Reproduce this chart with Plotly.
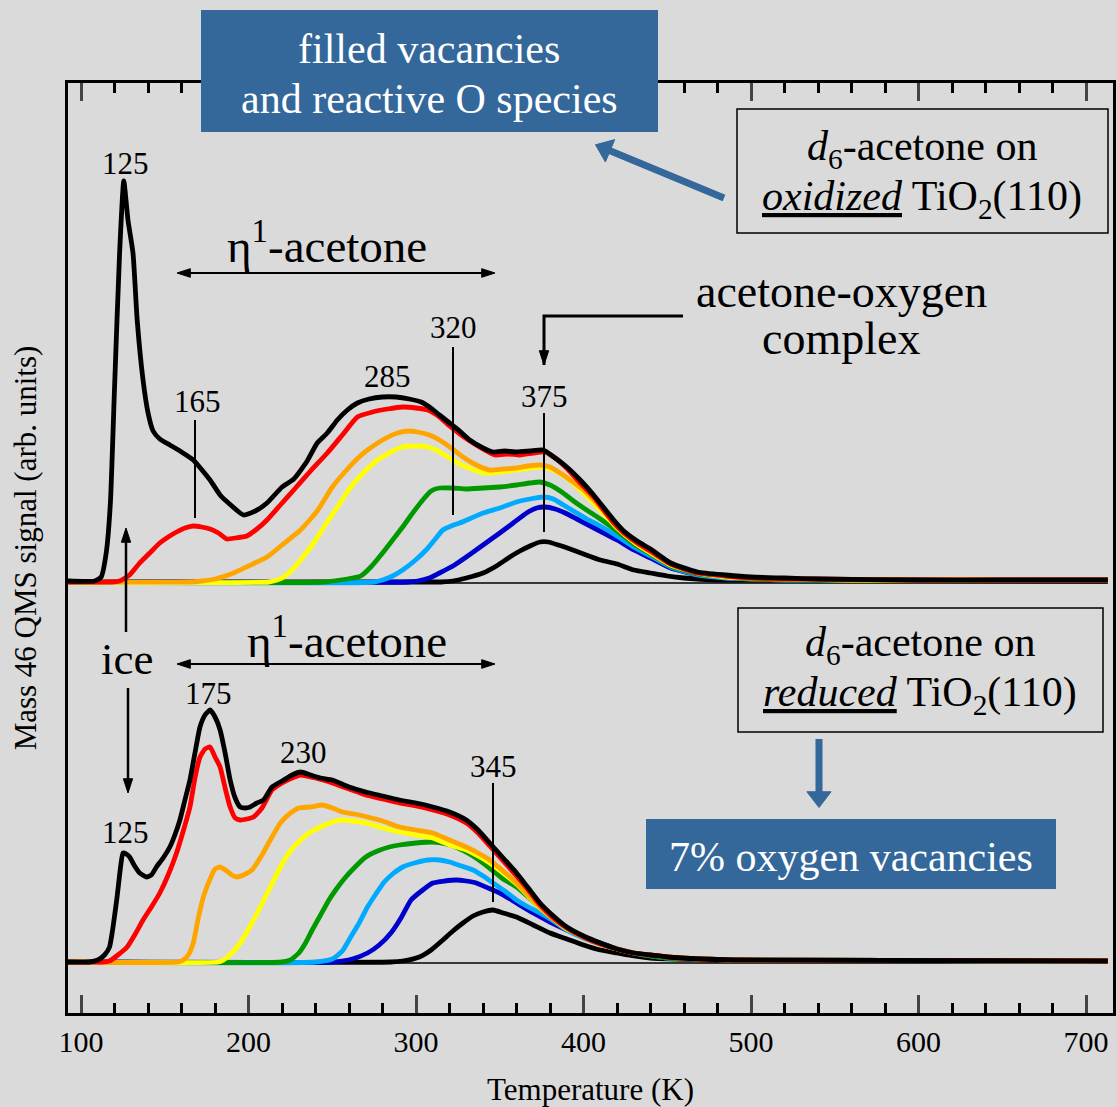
import plotly.graph_objects as go

# ---------------- data ----------------
T_RANGE = [92.2, 716.1]          # temperature axis (K)
SIG_RANGE = [0, 930]             # signal axis (arb. units)
OX_OFFSET = 430                  # vertical offset of oxidized-surface spectra
RD_OFFSET = 50                   # vertical offset of reduced-surface spectra
BASELINE_T = [95, 713]
X_TICKS = [100, 200, 300, 400, 500, 600, 700]

# (T, signal) pairs -- oxidized TiO2(110)
ox_black_hi = [(92, 2), (108, 2), (112, 6), (115, 30), (117.5, 80), (120, 196), (123, 330), (125.5, 402),
               (128, 363), (131, 330), (133.5, 263), (137, 203), (140, 170), (143, 152), (147, 144), (153, 138),
               (160, 131), (167, 123), (177, 103), (183, 88), (188, 80), (197, 68), (204, 72), (211, 80),
               (220, 96), (227, 104), (235, 122), (241, 140), (247, 150), (253, 163), (259, 173), (265, 180),
               (272, 184), (280, 186), (288, 186), (296, 184), (303, 181), (308, 176), (314, 168), (320, 160),
               (326, 152), (332, 143), (340, 135), (346, 131), (353, 132), (360, 131), (368, 132), (376, 133),
               (383, 125), (390, 116), (398, 103), (406, 88), (418, 63), (424, 52), (432, 42), (440, 34),
               (452, 20), (468, 11), (485, 8), (500, 6), (520, 5), (540, 4), (600, 3), (650, 3), (713, 3)]
ox_red = [(92, 1), (118, 1), (123, 2), (129, 8), (135, 20), (141, 30), (147, 40), (152, 46), (157, 51),
          (162, 55), (167, 57), (172, 56), (177, 54), (182, 50), (187, 44), (192, 45), (199, 47), (205, 54),
          (211, 63), (219, 78), (227, 93), (237, 112), (247, 130), (256, 148), (265, 166), (274, 171),
          (283, 174), (292, 176), (300, 175), (307, 173), (314, 166), (320, 157), (327, 148), (334, 140),
          (341, 133), (347, 128), (355, 129), (362, 128), (370, 130), (377, 131), (384, 124), (391, 113),
          (398, 100), (406, 86), (418, 60), (424, 50), (432, 40), (440, 32), (452, 19), (468, 10), (485, 7),
          (500, 5), (520, 4), (540, 4), (600, 3), (713, 3)]
ox_orange = [(92, 1), (165, 1), (172, 2), (180, 4), (191, 10), (200, 17), (211, 26), (220, 38), (231, 53),
             (241, 72), (250, 96), (258, 112), (266, 126), (271, 133), (280, 143), (289, 150), (296, 152),
             (301, 151), (308, 148), (314, 143), (321, 135), (328, 126), (336, 118), (344, 113), (352, 114),
             (360, 115), (367, 117), (374, 118), (380, 116), (386, 110), (392, 103), (400, 93), (410, 76),
             (420, 57), (430, 43), (440, 31), (452, 19), (468, 10), (485, 7), (500, 5), (520, 4), (560, 3),
             (713, 3)]
ox_yellow = [(92, 1), (212, 1), (217, 3), (221, 6), (226, 13), (231, 23), (238, 38), (245, 56), (253, 76),
             (261, 96), (269, 111), (277, 123), (285, 131), (292, 136), (300, 137), (307, 136), (312, 133),
             (316, 129), (321, 124), (326, 119), (333, 114), (340, 110), (350, 111), (360, 113), (368, 115),
             (375, 116), (382, 113), (390, 105), (400, 90), (410, 73), (420, 55), (430, 41), (440, 30),
             (452, 18), (468, 10), (485, 6), (500, 5), (520, 4), (560, 3), (713, 3)]
ox_green = [(92, 1), (245, 1), (255, 3), (262, 5), (267, 7), (273, 16), (280, 30), (286, 43), (292, 56),
            (298, 70), (304, 83), (309, 92), (314, 95), (322, 95), (330, 94), (340, 95), (350, 96), (360, 98),
            (368, 100), (374, 101), (380, 98), (387, 91), (394, 82), (400, 75), (410, 64), (420, 52),
            (430, 39), (440, 29), (452, 17), (468, 9), (485, 6), (500, 4), (520, 3), (713, 3)]
ox_lightblue = [(92, 1), (275, 1), (280, 3), (286, 7), (292, 13), (299, 22), (306, 33), (311, 43), (316, 53),
                (321, 57), (326, 60), (333, 65), (340, 70), (350, 75), (360, 81), (368, 84), (376, 86),
                (382, 84), (388, 78), (395, 71), (402, 64), (410, 57), (420, 47), (430, 36), (440, 27),
                (452, 16), (468, 8), (485, 5), (500, 4), (520, 3), (713, 3)]
ox_blue = [(92, 1), (295, 1), (301, 2), (308, 5), (314, 10), (322, 17), (330, 26), (340, 38), (350, 50),
           (358, 60), (366, 70), (372, 75), (377, 76), (383, 74), (389, 70), (396, 64), (404, 57), (412, 50),
           (420, 43), (430, 33), (440, 25), (452, 15), (468, 8), (485, 5), (500, 4), (520, 3), (713, 3)]
ox_black_lo = [(92, 1), (315, 1), (322, 2), (330, 5), (340, 10), (348, 17), (356, 26), (362, 32), (368, 37),
               (374, 41), (379, 41), (385, 38), (392, 34), (400, 29), (410, 23), (420, 19), (430, 13),
               (440, 10), (450, 7), (460, 5), (480, 3), (713, 2)]

# (T, signal) pairs -- reduced TiO2(110)
rd_black_hi = [(92, 1), (105, 1), (110, 3), (114, 8), (117, 16), (119, 35), (121.5, 66), (123.5, 95),
               (125, 110), (127, 109), (129, 106), (132, 97), (135, 90), (139, 86), (142, 88), (145, 96),
               (149, 105), (153, 116), (156, 128), (159, 143), (162, 163), (165, 183), (168, 210), (171, 236),
               (174, 248), (177, 253), (180, 246), (183, 233), (186, 210), (189, 183), (192, 165), (195, 156),
               (198, 155), (201, 156), (205, 160), (209, 163), (214, 176), (220, 182), (226, 188), (231, 191),
               (237, 188), (243, 185), (250, 183), (260, 176), (270, 171), (280, 167), (290, 163), (300, 160),
               (310, 156), (320, 151), (330, 143), (337, 133), (344, 120), (352, 105), (360, 90), (367, 75),
               (374, 60), (382, 47), (390, 36), (400, 27), (410, 20), (420, 14), (430, 10), (440, 8), (450, 6),
               (470, 4), (490, 3), (713, 2)]
rd_red = [(92, 1), (112, 1), (117, 2), (122, 8), (127.5, 16), (132, 28), (137, 43), (142, 56), (147, 70),
          (152, 88), (157, 110), (161, 132), (165, 156), (168, 185), (171, 206), (174, 214), (177, 216),
          (180, 206), (183, 196), (186, 175), (189, 156), (192, 145), (195, 143), (199, 144), (203, 146),
          (208, 155), (214, 173), (220, 180), (226, 185), (231, 188), (240, 185), (250, 180), (260, 174),
          (270, 168), (280, 164), (290, 160), (300, 157), (310, 153), (320, 148), (330, 140), (337, 130),
          (344, 117), (352, 102), (360, 87), (367, 73), (374, 58), (382, 45), (390, 35), (400, 26), (410, 19),
          (420, 14), (430, 10), (440, 8), (450, 6), (470, 4), (490, 3), (713, 2)]
rd_orange = [(92, 1), (158, 1), (161, 3), (164, 8), (167, 20), (170, 45), (173, 66), (177, 84), (180, 94),
             (183, 96), (187, 92), (190, 88), (193, 86), (197, 88), (202, 93), (208, 108), (214, 126),
             (219, 140), (225, 150), (230, 155), (237, 156), (244, 158), (250, 155), (256, 151), (263, 149),
             (271, 146), (280, 142), (290, 136), (300, 133), (310, 130), (320, 123), (330, 116), (337, 110),
             (344, 103), (352, 92), (360, 80), (367, 68), (374, 56), (382, 44), (390, 35), (400, 26), (410, 19),
             (420, 14), (430, 10), (440, 8), (450, 6), (470, 4), (490, 3), (713, 2)]
rd_yellow = [(92, 1), (182, 1), (185, 3), (190, 10), (195, 20), (201, 37), (207, 56), (213, 76), (219, 96),
             (225, 112), (231, 123), (237, 131), (243, 136), (250, 141), (255, 143), (262, 142), (270, 140),
             (280, 135), (290, 131), (300, 128), (310, 125), (320, 118), (330, 113), (337, 107), (344, 100),
             (352, 90), (360, 79), (367, 67), (374, 55), (382, 44), (390, 34), (400, 26), (410, 19), (420, 14),
             (430, 10), (440, 8), (450, 6), (470, 4), (490, 3), (713, 2)]
rd_green = [(92, 1), (220, 1), (225, 3), (230, 10), (234, 20), (238, 33), (243, 48), (248, 63), (252, 73),
            (257, 84), (263, 95), (270, 106), (277, 112), (284, 116), (290, 118), (300, 120), (310, 121),
            (318, 119), (325, 115), (332, 109), (340, 100), (346, 92), (352, 84), (360, 76), (367, 66),
            (374, 55), (382, 44), (390, 34), (400, 26), (410, 19), (420, 14), (430, 10), (440, 7), (450, 5),
            (470, 4), (490, 3), (713, 2)]
rd_lightblue = [(92, 1), (240, 1), (250, 4), (256, 12), (261, 26), (266, 40), (271, 56), (276, 69), (281, 81),
                (286, 89), (292, 96), (299, 100), (307, 103), (314, 103), (320, 101), (327, 97), (334, 93),
                (340, 87), (346, 80), (353, 72), (360, 63), (367, 56), (374, 50), (382, 42), (390, 33),
                (400, 25), (410, 19), (420, 14), (430, 10), (440, 7), (450, 5), (470, 4), (490, 3), (713, 2)]
rd_blue = [(92, 1), (250, 1), (262, 4), (271, 10), (278, 18), (285, 30), (291, 45), (297, 63), (304, 73),
           (310, 80), (317, 82), (324, 83), (330, 82), (336, 80), (343, 75), (350, 70), (360, 60), (370, 50),
           (380, 41), (390, 33), (400, 26), (410, 20), (420, 14), (430, 10), (440, 7), (450, 5), (470, 4),
           (490, 3), (713, 2)]
rd_black_lo = [(92, 1), (285, 1), (292, 2), (302, 6), (309, 13), (316, 23), (322, 32), (328, 40), (334, 47),
               (340, 51), (346, 53), (352, 50), (360, 46), (370, 38), (380, 30), (390, 24), (400, 18),
               (410, 13), (420, 10), (430, 7), (440, 5), (455, 4), (480, 3), (713, 2)]

# ---------------- styling ----------------
FONT = "Liberation Serif"
BOX_BLUE = "#34679A"
BG = "#dadada"
W, H = 1117, 1107
L, R, TOP, B = 68, 1113, 83, 1013   # plot area in pixels


def px(x):
    return (x - L) / (R - L)


def py(y):
    return (B - y) / (B - TOP)


def dx(x):   # pixel -> temperature (for annotation arrows drawn as traces)
    return T_RANGE[0] + px(x) * (T_RANGE[1] - T_RANGE[0])


def dy(y):   # pixel -> signal
    return SIG_RANGE[0] + py(y) * (SIG_RANGE[1] - SIG_RANGE[0])


fig = go.Figure()

panels = [
    (OX_OFFSET, [("black", ox_black_lo), ("#0000CC", ox_blue), ("#00AAFF", ox_lightblue),
                 ("#009900", ox_green), ("#FFFF00", ox_yellow), ("#FFA500", ox_orange),
                 ("#FF0000", ox_red), ("black", ox_black_hi)]),
    (RD_OFFSET, [("black", rd_black_lo), ("#0000CC", rd_blue), ("#00AAFF", rd_lightblue),
                 ("#009900", rd_green), ("#FFFF00", rd_yellow), ("#FFA500", rd_orange),
                 ("#FF0000", rd_red), ("black", rd_black_hi)]),
]
for offset, series in panels:
    fig.add_trace(go.Scatter(x=BASELINE_T, y=[offset, offset], mode="lines",
                             line=dict(color="black", width=1.6), hoverinfo="skip", showlegend=False))
    for color, pairs in series:
        fig.add_trace(go.Scatter(
            x=[p[0] for p in pairs], y=[offset + p[1] for p in pairs], mode="lines",
            line=dict(color=color, width=4.8, shape="spline", smoothing=0.5),
            showlegend=False))


def arrow(points, width, color, head, symbol="arrow"):
    """Polyline through pixel points with an arrowhead at the last point."""
    n = len(points)
    fig.add_trace(go.Scatter(
        x=[dx(p[0]) for p in points], y=[dy(p[1]) for p in points], mode="lines+markers",
        line=dict(color=color, width=width), opacity=1,
        marker=dict(symbol=symbol, size=[0] * (n - 1) + [head], angleref="previous", color=color,
                    opacity=1, line=dict(width=1, color=color)),
        cliponaxis=False, hoverinfo="skip", showlegend=False))


# double-headed eta1 arrows
for y in (273, 664):
    arrow([(336, y), (177, y)], 2, "black", 14)
    arrow([(336, y), (495, y)], 2, "black", 14)
# ice arrows
arrow([(126, 632), (126, 528)], 2.5, "black", 15)
arrow([(128, 688), (128, 793)], 2.5, "black", 15)
# acetone-oxygen pointer
arrow([(683, 316), (544, 316), (544, 365)], 3, "black", 15)
# blue arrows (triangle heads centred 10 px behind the tip)
arrow([(724, 198), (605.2, 148.8)], 7, BOX_BLUE, 21, "triangle-up")
arrow([(819, 739), (819, 797)], 7, BOX_BLUE, 21, "triangle-up")

shapes = []
# blue boxes
shapes.append(dict(type="rect", xref="paper", yref="paper", x0=px(201), x1=px(658), y0=py(132), y1=py(10),
                   fillcolor=BOX_BLUE, line=dict(width=0), layer="above"))
shapes.append(dict(type="rect", xref="paper", yref="paper", x0=px(646), x1=px(1056), y0=py(889), y1=py(819),
                   fillcolor=BOX_BLUE, line=dict(width=0), layer="above"))
# framed boxes
shapes.append(dict(type="rect", xref="paper", yref="paper", x0=px(737), x1=px(1108), y0=py(233), y1=py(109),
                   line=dict(color="black", width=1.5)))
shapes.append(dict(type="rect", xref="paper", yref="paper", x0=px(738), x1=px(1103), y0=py(732), y1=py(608),
                   line=dict(color="black", width=1.5)))
# peak marker lines
for xx, y0, y1 in [(195, 420, 518), (453, 347, 515), (544, 413, 532), (493, 783, 902)]:
    shapes.append(dict(type="line", xref="paper", yref="paper", x0=px(xx), x1=px(xx), y0=py(y0), y1=py(y1),
                       line=dict(color="black", width=2)))

ann = []


def text(x, y, s, size, color="black"):
    ann.append(dict(xref="paper", yref="paper", x=px(x), y=py(y), text=s, showarrow=False,
                    xanchor="center", yanchor="middle", font=dict(family=FONT, size=size, color=color)))


# box texts
text(429, 49, "filled vacancies", 42, "white")
text(429, 99, "and reactive O species", 42, "white")
text(922, 149, "<i>d</i><sub>6</sub>-acetone on", 42)
text(922, 199, "<u><i>oxidized</i></u> TiO<sub>2</sub>(110)", 42)
text(920, 645, "<i>d</i><sub>6</sub>-acetone on", 42)
text(920, 695, "<u><i>reduced</i></u> TiO<sub>2</sub>(110)", 42)
text(851, 857, "7% oxygen vacancies", 42, "white")
text(841, 291, "acetone-oxygen", 46)
text(841, 338, "complex", 46)
text(327, 243, "η<sup>1</sup>-acetone", 47)
text(347, 637, "η<sup>1</sup>-acetone", 47)
text(127, 659, "ice", 45)
# peak temperatures
for x, y, s in [(125, 163, "125"), (197, 401, "165"), (387, 376, "285"), (453, 327, "320"), (544, 396, "375"),
                (208, 693, "175"), (303, 752, "230"), (125, 832, "125"), (493, 766, "345")]:
    text(x, y, s, 31)

fig.update_layout(
    width=W, height=H,
    margin=dict(l=L, r=W - R, t=TOP, b=H - B, autoexpand=False),
    paper_bgcolor=BG, plot_bgcolor=BG,
    font=dict(family=FONT, color="black"),
    shapes=shapes, annotations=ann, showlegend=False,
    xaxis=dict(range=T_RANGE, tickvals=X_TICKS, ticks="inside", ticklen=18, tickwidth=3,
               showline=True, linewidth=3, linecolor="black", mirror="ticks", showgrid=False, zeroline=False,
               tickfont=dict(family=FONT, size=30, color="black"),
               minor=dict(dtick=20, tick0=0, ticks="inside", ticklen=10, tickwidth=2.5, tickcolor="black",
                          showgrid=False),
               title=dict(text="Temperature (K)", font=dict(family=FONT, size=31, color="black"), standoff=22)),
    yaxis=dict(range=SIG_RANGE, showline=True, linewidth=3, linecolor="black", mirror=True, ticks="",
               showticklabels=False, showgrid=False, zeroline=False,
               title=dict(text="Mass 46 QMS signal (arb. units)", font=dict(family=FONT, size=31, color="black"),
                          standoff=20)),
)

fig.write_html("out.html")
